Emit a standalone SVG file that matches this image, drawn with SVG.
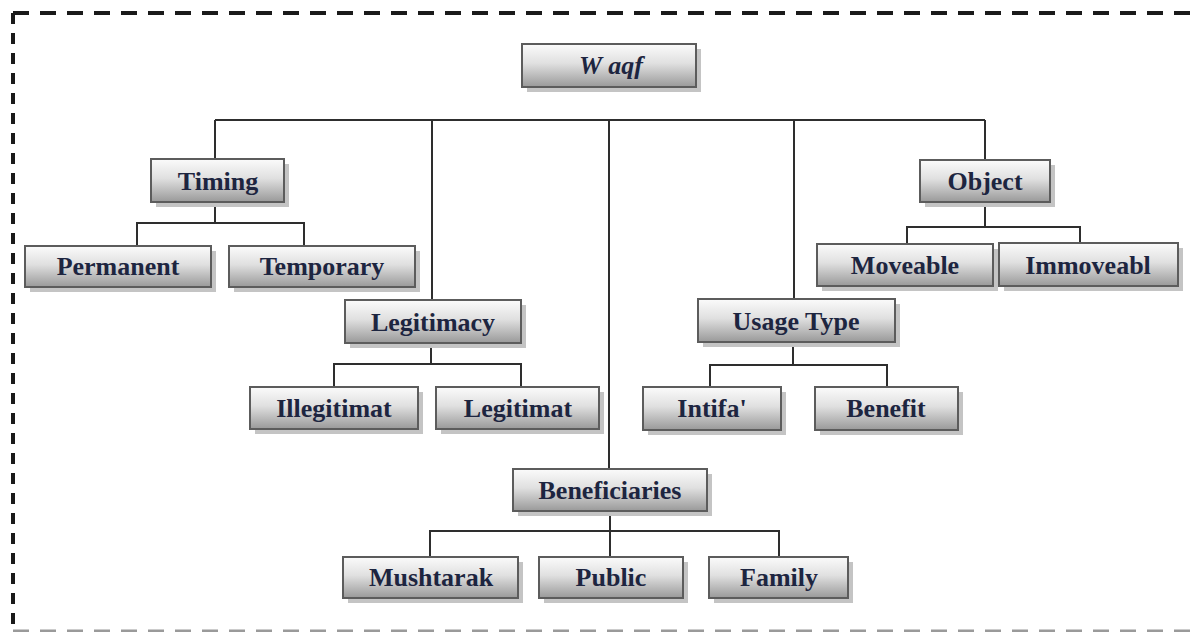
<svg xmlns="http://www.w3.org/2000/svg" width="1194" height="632" viewBox="0 0 1194 632">
<defs>
<linearGradient id="g" x1="0" y1="0" x2="0" y2="1">
<stop offset="0" stop-color="#fbfbfb"/>
<stop offset="0.45" stop-color="#e0e0e0"/>
<stop offset="1" stop-color="#999999"/>
</linearGradient>
<style>
.sh{fill:#c4c4c4}
.bx{fill:url(#g);stroke:#5c5c5c;stroke-width:2}
.t{font-family:"Liberation Serif","Times New Roman",serif;font-weight:bold;font-size:26px;fill:#1d2540;text-anchor:middle}
.c{fill:none;stroke:#2e2e2e;stroke-width:2}
</style>
</defs>
<rect width="1194" height="632" fill="#ffffff"/>
<g id="frame" fill="none">
<path d="M13,13 V632" stroke="#1a1a1a" stroke-width="4" stroke-dasharray="11 9"/>
<path d="M13,13 H1194" stroke="#1a1a1a" stroke-width="4" stroke-dasharray="16 11"/>
<path d="M13,631 H1194" stroke="#9a9a9a" stroke-width="3" stroke-dasharray="16 11"/>
</g>
<g id="connectors" class="c">
<path d="M215,120 H985"/>
<path d="M215,120 V159"/>
<path d="M432,120 V300"/>
<path d="M609,120 V469"/>
<path d="M794,120 V299"/>
<path d="M985,120 V160"/>
<path d="M215,202 V223 M137,246 V223 H304 V246"/>
<path d="M985,202 V227 M907,244 V227 H1080 V243"/>
<path d="M431,343 V364 M334,387 V364 H521 V387"/>
<path d="M793,342 V365 M710,387 V365 H887 V387"/>
<path d="M610,511 V531 M430,557 V531 H779 V557 M610,531 V557"/>
</g>
<g id="waaf"><rect class="sh" x="527" y="49" width="174" height="43"/><rect class="bx" x="522" y="44" width="174" height="43"/><text class="t" x="611" y="74" font-style="italic">W aqf</text></g>
<g id="timing"><rect class="sh" x="156" y="164" width="133" height="43"/><rect class="bx" x="151" y="159" width="133" height="43"/><text class="t" x="218" y="190">Timing</text></g>
<g id="object"><rect class="sh" x="925" y="165" width="130" height="42"/><rect class="bx" x="920" y="160" width="130" height="42"/><text class="t" x="985" y="190">Object</text></g>
<g id="permanent"><rect class="sh" x="30" y="251" width="186" height="41"/><rect class="bx" x="25" y="246" width="186" height="41"/><text class="t" x="118" y="275">Permanent</text></g>
<g id="temporary"><rect class="sh" x="234" y="251" width="186" height="41"/><rect class="bx" x="229" y="246" width="186" height="41"/><text class="t" x="322" y="275">Temporary</text></g>
<g id="moveable"><rect class="sh" x="822" y="249" width="176" height="42"/><rect class="bx" x="817" y="244" width="176" height="42"/><text class="t" x="905" y="274">Moveable</text></g>
<g id="immoveabl"><rect class="sh" x="1004" y="248" width="179" height="43"/><rect class="bx" x="999" y="243" width="179" height="43"/><text class="t" x="1088" y="274">Immoveabl</text></g>
<g id="legitimacy"><rect class="sh" x="350" y="305" width="176" height="43"/><rect class="bx" x="345" y="300" width="176" height="43"/><text class="t" x="433" y="331">Legitimacy</text></g>
<g id="usage"><rect class="sh" x="703" y="304" width="197" height="43"/><rect class="bx" x="698" y="299" width="197" height="43"/><text class="t" x="796" y="330">Usage Type</text></g>
<g id="illegitimat"><rect class="sh" x="255" y="392" width="168" height="42"/><rect class="bx" x="250" y="387" width="168" height="42"/><text class="t" x="334" y="417">Illegitimat</text></g>
<g id="legitimat"><rect class="sh" x="441" y="392" width="163" height="42"/><rect class="bx" x="436" y="387" width="163" height="42"/><text class="t" x="518" y="417">Legitimat</text></g>
<g id="intifa"><rect class="sh" x="648" y="392" width="138" height="43"/><rect class="bx" x="643" y="387" width="138" height="43"/><text class="t" x="712" y="417">Intifa'</text></g>
<g id="benefit"><rect class="sh" x="820" y="392" width="143" height="43"/><rect class="bx" x="815" y="387" width="143" height="43"/><text class="t" x="886" y="417">Benefit</text></g>
<g id="beneficiaries"><rect class="sh" x="518" y="474" width="194" height="42"/><rect class="bx" x="513" y="469" width="194" height="42"/><text class="t" x="610" y="499">Beneficiaries</text></g>
<g id="mushtarak"><rect class="sh" x="348" y="562" width="175" height="41"/><rect class="bx" x="343" y="557" width="175" height="41"/><text class="t" x="431" y="586">Mushtarak</text></g>
<g id="public"><rect class="sh" x="544" y="562" width="144" height="41"/><rect class="bx" x="539" y="557" width="144" height="41"/><text class="t" x="611" y="586">Public</text></g>
<g id="family"><rect class="sh" x="714" y="562" width="139" height="41"/><rect class="bx" x="709" y="557" width="139" height="41"/><text class="t" x="779" y="586">Family</text></g>
</svg>
